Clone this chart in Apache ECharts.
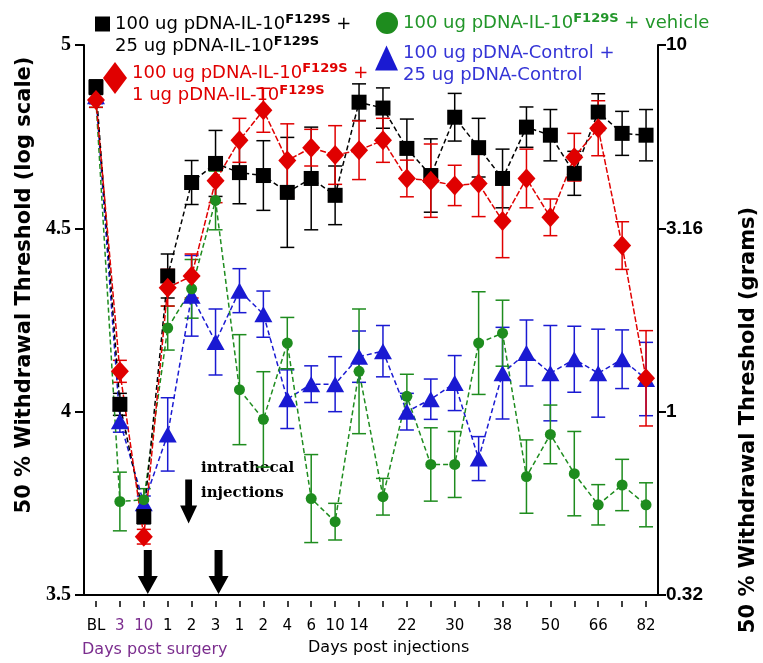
<!DOCTYPE html>
<html>
<head>
<meta charset="utf-8">
<title>50% Withdrawal Threshold</title>
<script src="https://cdn.jsdelivr.net/npm/echarts@6.0.0/dist/echarts.min.js"></script>
<style>
  html, body { margin: 0; padding: 0; background: #fff; }
  #chart { width: 763px; height: 663px; }
</style>
</head>
<body>
<div id="chart"></div>
<script>
// x categories: BL, days post surgery (3, 10), then days post injections
var dayLabels = ['BL', '3', '10', '1', '2', '3', '1', '2', '4', '6', '10', '14', '',
    '22', '', '30', '', '38', '', '50', '', '66', '', '82'];
var rightTicks = ['0.32', '1', '3.16', '10'];

// log threshold, mean and error per time point
var il10High = [4.885, 4.02, 3.714, 4.37, 4.625, 4.677, 4.652, 4.644, 4.598, 4.636, 4.59, 4.844,
    4.828, 4.718, 4.644, 4.803, 4.72, 4.636, 4.776, 4.754, 4.65, 4.817, 4.759, 4.754];
var il10HighErr = [0.02, 0.03, 0.02, 0.06, 0.06, 0.09, 0.085, 0.095, 0.15, 0.14, 0.08, 0.05,
    0.055, 0.08, 0.1, 0.065, 0.08, 0.08, 0.055, 0.07, 0.06, 0.05, 0.06, 0.07];

var il10Low = [4.85, 4.11, 3.659, 4.338, 4.37, 4.63, 4.74, 4.822, 4.685, 4.72, 4.70, 4.713,
    4.74, 4.636, 4.63, 4.617, 4.622, 4.52, 4.636, 4.53, 4.694, 4.773, 4.453, 4.091];
var il10LowErr = [0.02, 0.03, 0.02, 0.05, 0.06, 0.06, 0.06, 0.06, 0.1, 0.05, 0.08, 0.08,
    0.06, 0.05, 0.1, 0.055, 0.09, 0.1, 0.08, 0.05, 0.065, 0.075, 0.065, 0.13];

var vehicle = [4.85, 3.755, 3.76, 4.228, 4.335, 4.576, 4.06, 3.979, 4.187, 3.763, 3.70, 4.11,
    3.768, 4.042, 3.856, 3.856, 4.187, 4.214, 3.823, 3.938, 3.831, 3.746, 3.80, 3.746];
var vehicleErr = [0.02, 0.08, 0.03, 0.06, 0.08, 0.08, 0.15, 0.13, 0.07, 0.12, 0.05, 0.17,
    0.05, 0.06, 0.1, 0.09, 0.14, 0.09, 0.1, 0.08, 0.115, 0.055, 0.07, 0.06];

var control = [4.86, 3.974, 3.75, 3.938, 4.316, 4.19, 4.33, 4.266, 4.034, 4.075, 4.075, 4.15,
    4.165, 4.0, 4.034, 4.078, 3.872, 4.105, 4.16, 4.105, 4.143, 4.105, 4.143, 4.089];
var controlErr = [0.02, 0.03, 0.02, 0.1, 0.11, 0.09, 0.06, 0.063, 0.08, 0.05, 0.075, 0.07,
    0.07, 0.05, 0.055, 0.075, 0.06, 0.125, 0.09, 0.13, 0.09, 0.12, 0.08, 0.1];

var SANS = '"DejaVu Sans", sans-serif';
var ARROW = 'path://M6,0L14,0L14,26L20,26L10,44L0,26L6,26Z';

var names = {
    high: '100 ug pDNA-IL-10F129S + 25 ug pDNA-IL-10F129S',
    low: '100 ug pDNA-IL-10F129S + 1 ug pDNA-IL-10F129S',
    veh: '100 ug pDNA-IL-10F129S + vehicle',
    ctl: '100 ug pDNA-Control + 25 ug pDNA-Control'
};

function errorSeries(vals, errs, color) {
    return {
        type: 'custom',
        silent: true,
        z: 1,
        data: vals.map(function (v, i) { return [i, v - errs[i], v + errs[i]]; }),
        encode: { x: 0, y: [1, 2] },
        renderItem: function (params, api) {
            var lo = api.coord([api.value(0), api.value(1)]);
            var hi = api.coord([api.value(0), api.value(2)]);
            var hw = 7;
            var st = { stroke: color, lineWidth: 1.5 };
            return {
                type: 'group',
                children: [
                    { type: 'line', shape: { x1: lo[0], y1: lo[1], x2: hi[0], y2: hi[1] }, style: st },
                    { type: 'line', shape: { x1: hi[0] - hw, y1: hi[1], x2: hi[0] + hw, y2: hi[1] }, style: st },
                    { type: 'line', shape: { x1: lo[0] - hw, y1: lo[1], x2: lo[0] + hw, y2: lo[1] }, style: st }
                ]
            };
        }
    };
}

function lineSeries(name, vals, color, symbol, size, dash) {
    return {
        name: name,
        type: 'line',
        data: vals,
        z: 3,
        symbol: symbol,
        symbolSize: size,
        itemStyle: { color: color },
        lineStyle: { color: color, width: 1.5, type: dash },
        emphasis: { disabled: true }
    };
}

function legendFor(name, color, icon, w, h, left, top, text, padTop) {
    return {
        data: [name],
        left: left,
        top: top,
        padding: 0,
        icon: icon,
        itemWidth: w,
        itemHeight: h,
        selectedMode: false,
        formatter: function () { return text; },
        textStyle: {
            fontFamily: SANS,
            fontSize: 18,
            lineHeight: 22,
            color: color,
            padding: [padTop, 0, 0, 0],
            rich: {
                sup: { fontFamily: SANS, fontSize: 13, fontWeight: 'bold', color: color, verticalAlign: 'top', lineHeight: 14 },
                t: { fontFamily: SANS, fontSize: 18, color: color, lineHeight: 22 }
            }
        }
    };
}

var blackLine = lineSeries(names.high, il10High, '#000000', 'rect', 15, [5, 3]);
blackLine.markPoint = {
    silent: true,
    symbol: ARROW,
    itemStyle: { color: '#000' },
    label: { show: false },
    data: [
        { coord: [2, 3.563], symbolSize: [20, 44], symbolOffset: [4, 0] },
        { coord: [5, 3.563], symbolSize: [20, 44], symbolOffset: [3, 0] },
        { coord: [4, 3.755], symbolSize: [17, 44], symbolOffset: [-3, 0] }
    ]
};

var chart = echarts.init(document.getElementById('chart'));
chart.setOption({
    animation: false,
    backgroundColor: '#fff',
    grid: { left: 84, right: 105, top: 45, bottom: 68, outerBoundsMode: 'none' },
    legend: [
        legendFor(names.high, '#000', 'rect', 15, 15, 95, -9,
            '{t|100 ug pDNA-IL-10}{sup|F129S}{t| +}\n{t|25 ug pDNA-IL-10}{sup|F129S}', 22),
        legendFor(names.low, '#e00000', 'diamond', 24, 32, 103, 50,
            '{t|100 ug pDNA-IL-10}{sup|F129S}{t| +}\n{t|1 ug pDNA-IL-10}{sup|F129S}', 12),
        legendFor(names.veh, '#22962a', 'circle', 22, 22, 376, 12,
            '{t|100 ug pDNA-IL-10}{sup|F129S}{t| + vehicle}', 0),
        legendFor(names.ctl, '#3434d6', 'triangle', 23, 25, 375, 30,
            '{t|100 ug pDNA-Control +}\n{t|25 ug pDNA-Control}', 12)
    ],
    xAxis: [{
        type: 'category',
        data: dayLabels,
        boundaryGap: true,
        offset: 6,
        axisLine: { show: false },
        axisTick: { show: true, alignWithLabel: true, interval: 0, length: 6, lineStyle: { color: '#000', width: 1.5 } },
        axisLabel: {
            interval: 0,
            margin: 18,
            fontFamily: SANS,
            fontSize: 15,
            color: function (v, i) { return (i === 1 || i === 2) ? '#7b2d8e' : '#000'; }
        },
        splitLine: { show: false }
    }, {
        type: 'category',
        data: dayLabels,
        position: 'bottom',
        axisLine: { show: true, lineStyle: { color: '#000', width: 2 } },
        axisTick: { show: false },
        axisLabel: { show: false },
        splitLine: { show: false }
    }],
    yAxis: [{
        type: 'value',
        min: 3.5,
        max: 5,
        interval: 0.5,
        name: '50 % Withdrawal Threshold (log scale)',
        nameLocation: 'middle',
        nameRotate: 90,
        nameGap: 46,
        nameTextStyle: { fontFamily: SANS, fontWeight: 'bold', fontSize: 21, color: '#000', padding: [0, 0, 0, 70] },
        axisLine: { show: true, lineStyle: { color: '#000', width: 2 } },
        axisTick: { show: true, length: 9, lineStyle: { color: '#000', width: 2 } },
        axisLabel: { margin: 13, fontFamily: '"Liberation Serif", serif', fontWeight: 'bold', fontSize: 20, color: '#000' },
        splitLine: { show: false }
    }, {
        type: 'value',
        position: 'right',
        min: 3.5,
        max: 5,
        interval: 0.5,
        name: '50 % Withdrawal Threshold (grams)',
        nameLocation: 'middle',
        nameRotate: 90,
        nameGap: 80,
        nameTextStyle: { fontFamily: SANS, fontWeight: 'bold', fontSize: 21, color: '#000', padding: [0, 200, 0, 0] },
        axisLine: { show: true, lineStyle: { color: '#000', width: 2 } },
        axisTick: { show: true, length: 8, lineStyle: { color: '#000', width: 2 } },
        axisLabel: {
            margin: 8,
            fontFamily: '"Liberation Sans", sans-serif',
            fontWeight: 'bold',
            fontSize: 19,
            color: '#000',
            formatter: function (v) { return rightTicks[Math.round((v - 3.5) / 0.5)]; }
        },
        splitLine: { show: false }
    }],
    graphic: [
        { type: 'text', left: 82, top: 642, style: { text: 'Days post surgery', font: '16px ' + SANS, fill: '#7b2d8e' } },
        { type: 'text', left: 308, top: 640, style: { text: 'Days post injections', font: '16px ' + SANS, fill: '#000' } },
        { type: 'text', left: 201, top: 456, style: { text: 'intrathecal\ninjections', font: 'bold 15px "DejaVu Serif", serif', fill: '#000', lineHeight: 25 } }
    ],
    series: [
        errorSeries(control, controlErr, '#1a1ad2'),
        errorSeries(vehicle, vehicleErr, '#1e8c1e'),
        errorSeries(il10High, il10HighErr, '#000000'),
        errorSeries(il10Low, il10LowErr, '#e00000'),
        lineSeries(names.ctl, control, '#1a1ad2', 'triangle', [18, 16], [5, 3]),
        lineSeries(names.veh, vehicle, '#1e8c1e', 'circle', 11, [5, 3]),
        blackLine,
        lineSeries(names.low, il10Low, '#e00000', 'diamond', [18, 20], [6, 2])
    ]
});
</script>
</body>
</html>
